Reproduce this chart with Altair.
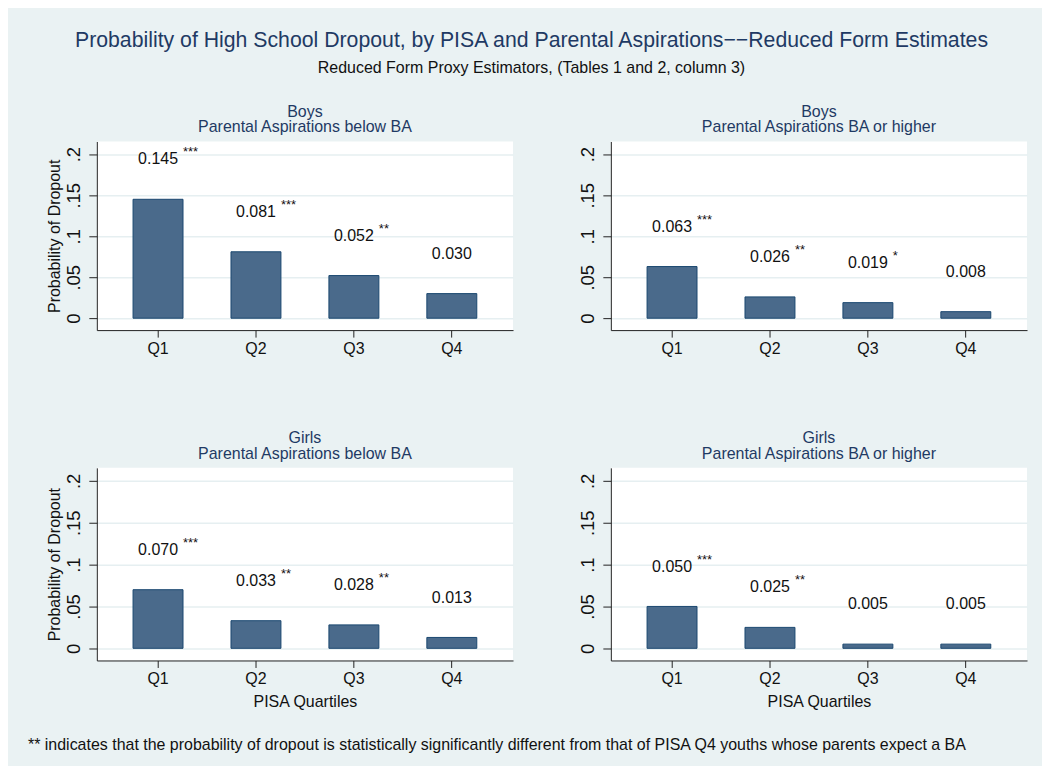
import altair as alt
import pandas as pd

quartiles = ["Q1", "Q2", "Q3", "Q4"]

boys_below = [0.145, 0.081, 0.052, 0.030]
boys_below_stars = ["***", "***", "**", ""]
boys_ba = [0.063, 0.026, 0.019, 0.008]
boys_ba_stars = ["***", "**", "*", ""]
girls_below = [0.070, 0.033, 0.028, 0.013]
girls_below_stars = ["***", "**", "**", ""]
girls_ba = [0.050, 0.025, 0.005, 0.005]
girls_ba_stars = ["***", "**", "", ""]

panel_titles = [
    ["Boys", "Parental Aspirations below BA"],
    ["Boys", "Parental Aspirations BA or higher"],
    ["Girls", "Parental Aspirations below BA"],
    ["Girls", "Parental Aspirations BA or higher"],
]

y_ticks = [0, 0.05, 0.1, 0.15, 0.2]
y_tick_labels = ["0", ".05", ".1", ".15", ".2"]

main_title = "Probability of High School Dropout, by PISA and Parental Aspirations\u2212\u2212Reduced Form Estimates"
sub_title = "Reduced Form Proxy Estimators, (Tables 1 and 2, column 3)"
y_title = "Probability of Dropout"
x_title = "PISA Quartiles"
footnote = ("** indicates that the probability of dropout is statistically significantly "
            "different from that of PISA Q4 youths whose parents expect a BA")

TITLE_COLOR = "#1f3a64"
BAR_FILL = "#4a6a8b"
BAR_STROKE = "#1a476f"
GRID = "#e6eff1"
FONT = "Liberation Sans"
TEXT = "#111111"

label_expr = ""
for v, l in zip(y_ticks, y_tick_labels):
    label_expr += f"datum.value == {v} ? '{l}' : "
label_expr += "''"


def panel(values, stars, title, show_ytitle, show_xtitle, height, note=False):
    df = pd.DataFrame({
        "q": quartiles,
        "v": values,
        "s": stars,
        "lab": [f"{v:.3f}" for v in values],
    })
    base = alt.Chart(df)
    x = alt.X(
        "q:N",
        sort=quartiles,
        scale=alt.Scale(paddingInner=0.49, paddingOuter=0.37),
        axis=alt.Axis(
            title=x_title if show_xtitle else None,
            labelAngle=0,
            labelFontSize=16,
            labelColor=TEXT,
            labelPadding=3,
            tickSize=7,
            tickColor="#222222",
            domainColor="#222222",
            titleFontSize=16,
            titleFontWeight="normal",
            titleColor=TEXT,
            titlePadding=7,
            grid=False,
        ),
    )
    y = alt.Y(
        "v:Q",
        scale=alt.Scale(domain=[-0.0145, 0.2155], nice=False, zero=False),
        axis=alt.Axis(
            title=y_title if show_ytitle else None,
            values=y_ticks,
            labelExpr=label_expr,
            labelAngle=-90,
            labelAlign="center",
            labelBaseline="alphabetic",
            labelFontSize=18.5,
            labelColor=TEXT,
            labelPadding=9,
            tickSize=8,
            tickColor="#222222",
            domainColor="#222222",
            grid=True,
            gridColor=GRID,
            gridWidth=1.5,
            titleFontSize=16,
            titleFontWeight="normal",
            titleColor=TEXT,
            titlePadding=2,
        ),
    )
    bars = base.mark_bar(fill=BAR_FILL, stroke=BAR_STROKE, strokeWidth=1).encode(
        x=x, y=y, y2=alt.datum(0)
    )
    labels = base.mark_text(fontSize=16, dy=-40, baseline="middle", color=TEXT).encode(
        x=alt.X("q:N", sort=quartiles), y="v:Q", text="lab:N"
    )
    star_txt = base.mark_text(fontSize=13, dx=25, dy=-47, align="left", baseline="middle",
                              color=TEXT).encode(
        x=alt.X("q:N", sort=quartiles), y="v:Q", text="s:N"
    )
    layers = [bars, labels, star_txt]
    if note:
        ndf = pd.DataFrame({"t": [footnote]})
        layers.append(
            alt.Chart(ndf).mark_text(align="left", baseline="middle", fontSize=16,
                                     color=TEXT).encode(
                x=alt.value(-69), y=alt.value(278), text="t:N"
            )
        )
    return alt.layer(*layers).properties(
        width=417,
        height=height,
        title=alt.TitleParams(
            text=title,
            fontSize=16,
            fontWeight="normal",
            color=TITLE_COLOR,
            anchor="middle",
            frame="group",
            offset=6,
            lineHeight=16,
        ),
    )


p1 = panel(boys_below, boys_below_stars, panel_titles[0], True, False, 189)
p2 = panel(boys_ba, boys_ba_stars, panel_titles[1], False, False, 189)
p3 = panel(girls_below, girls_below_stars, panel_titles[2], True, True, 193, note=True)
p4 = panel(girls_ba, girls_ba_stars, panel_titles[3], False, True, 193)

chart = alt.concat(
    p1, p2, p3, p4,
    columns=2,
    spacing={"row": 138, "column": 98},
    bounds="flush",
).properties(
    title=alt.TitleParams(
        text=main_title,
        subtitle=sub_title,
        fontSize=21.3,
        fontWeight="normal",
        color=TITLE_COLOR,
        subtitleFontSize=16,
        subtitleColor=TEXT,
        subtitlePadding=8,
        anchor="middle",
        offset=28,
        dx=4,
    ),
    padding={"left": 20, "top": 21, "right": 15, "bottom": 12},
).configure(
    background="#eaf2f3",
    font=FONT,
).configure_view(
    fill="white",
    strokeWidth=0,
)

chart.save("out.html", embed_options={"renderer": "svg", "actions": False})
